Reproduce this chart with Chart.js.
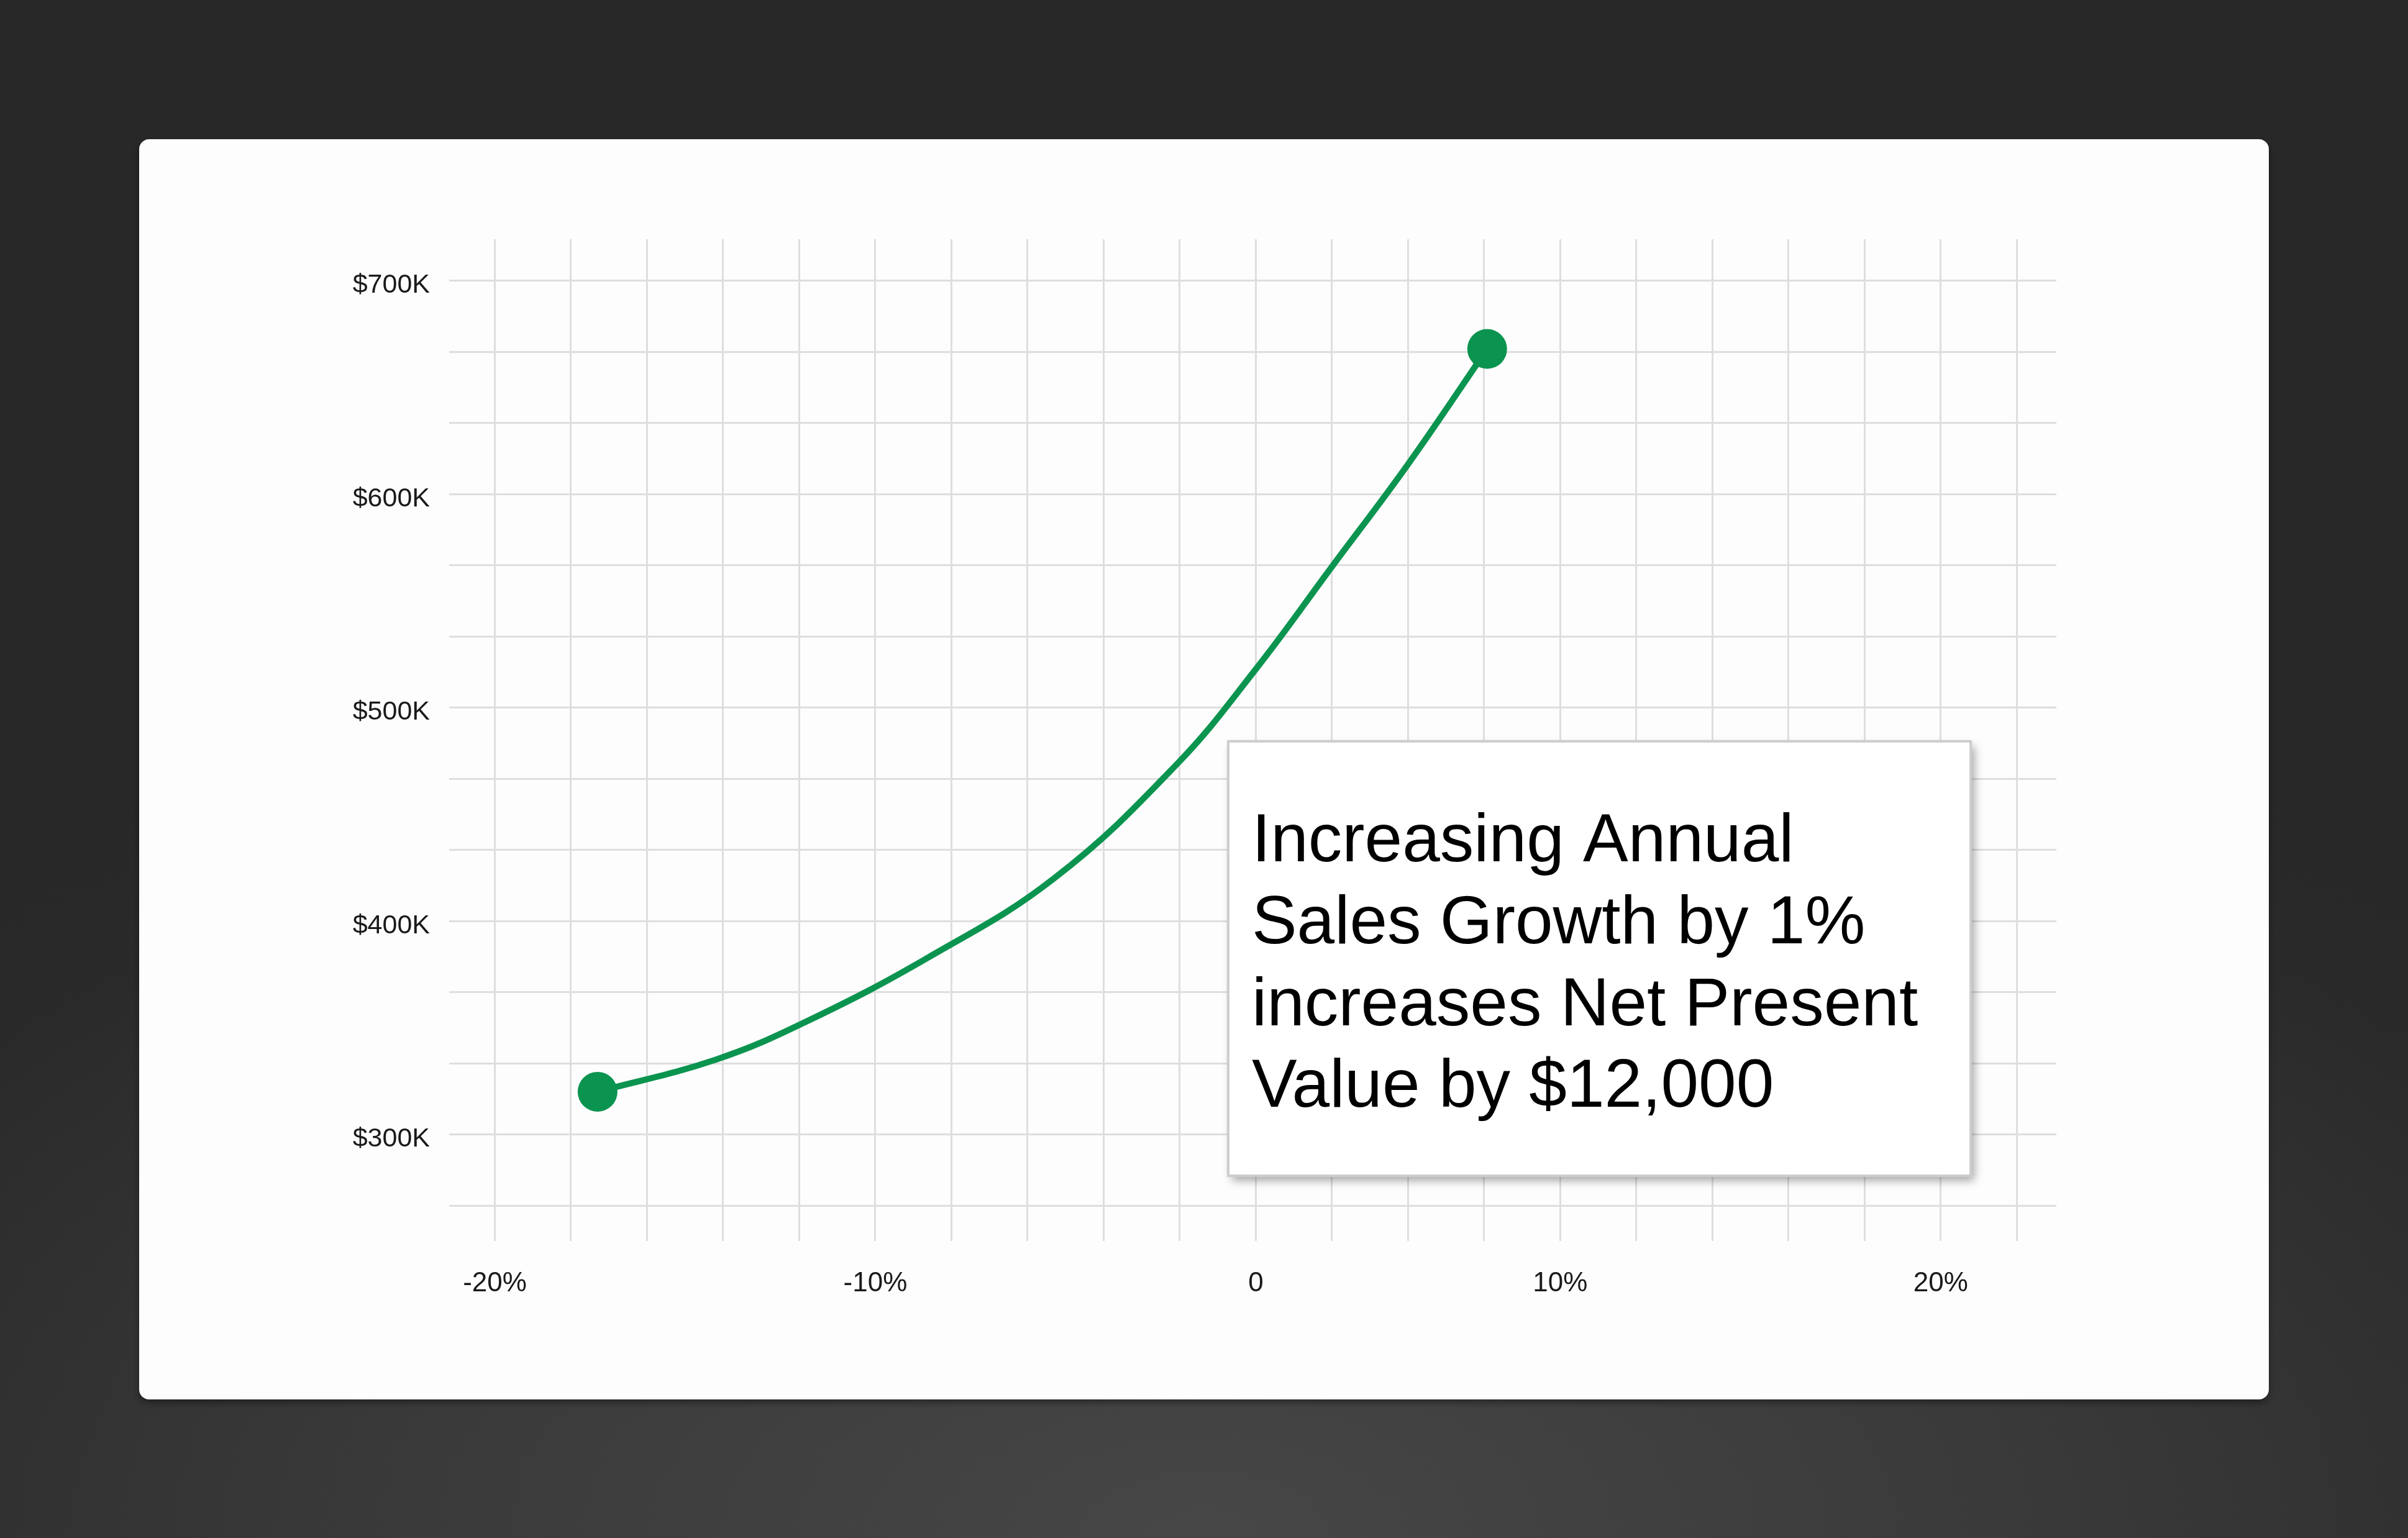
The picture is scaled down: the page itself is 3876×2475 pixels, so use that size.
<!DOCTYPE html>
<html>
<head>
<meta charset="utf-8">
<script src="https://cdn.jsdelivr.net/npm/chart.js@4.4.1/dist/chart.umd.min.js"></script>
<style>
  html, body { margin: 0; padding: 0; }
  body {
    width: 3876px; height: 2475px; overflow: hidden; position: relative;
    background: radial-gradient(ellipse 75% 60% at 50% 100%, #474747 0%, #3a3a3a 45%, #2a2a2a 85%, #282828 100%);
  }
  #card {
    position: absolute; left: 224px; top: 224px; width: 3428px; height: 2028px;
    background: #fdfdfd; border-radius: 16px;
    box-shadow: 0 6px 10px rgba(0,0,0,0.35);
  }
  #wrap { position: absolute; left: 0; top: 0; width: 3428px; height: 2028px; }
</style>
</head>
<body>
<div id="card"><div id="wrap"><canvas id="c"></canvas></div></div>
<script>
// ---- data ----
const growthPct = [-17.3, -14.2, -11.8, -8.6, -5.3, -2.1, 0.0, 2.5, 5.0, 7.6];      // annual sales growth (%)
const npvValues = [320000, 335000, 353000, 383000, 420000, 473000, 518000, 566000, 614000, 668000]; // net present value ($)
const xTickValues = [-20, -10, 0, 10, 20];
const xTickLabels = ['-20%', '-10%', '0', '10%', '20%'];
const yTickValues = [700000, 600000, 500000, 400000, 300000];
const yTickLabels = ['$700K', '$600K', '$500K', '$400K', '$300K'];
const noteLines = ['Increasing Annual', 'Sales Growth by 1%', 'increases Net Present', 'Value by $12,000'];

// ---- x axis as drawn in the picture: grid columns, labels sit on irregular columns ----
const xLabelColumns = [0, 5, 10, 14, 19];
const xColumnRange = [-0.6, 20.52];
const xColumnCount = 21;
function valueToCol(v) {
  const a = xTickValues, c = xLabelColumns;
  let i = 0;
  if (v >= a[a.length - 1]) i = a.length - 2;
  else while (i < a.length - 2 && v > a[i + 1]) i++;
  return c[i] + (v - a[i]) * (c[i + 1] - c[i]) / (a[i + 1] - a[i]);
}
function colToValue(col) {
  const a = xTickValues, c = xLabelColumns;
  let i = 0;
  if (col >= c[c.length - 1]) i = c.length - 2;
  else while (i < c.length - 2 && col > c[i + 1]) i++;
  return a[i] + (col - c[i]) * (a[i + 1] - a[i]) / (c[i + 1] - c[i]);
}
class ColumnScale extends Chart.LinearScale {
  getPixelForValue(value) {
    const col = valueToCol(value);
    return this.getPixelForDecimal((col - xColumnRange[0]) / (xColumnRange[1] - xColumnRange[0]));
  }
  getValueForPixel(pixel) {
    const col = xColumnRange[0] + this.getDecimalForPixel(pixel) * (xColumnRange[1] - xColumnRange[0]);
    return colToValue(col);
  }
}
ColumnScale.id = 'columns';
ColumnScale.defaults = {};
Chart.register(ColumnScale);

const xGridValues = [];
for (let k = 0; k < xColumnCount; k++) xGridValues.push(colToValue(k));
const yStep = 100000 / 3;
const yGridValues = [];
for (let k = 0; k < 14; k++) yGridValues.push(700000 - k * yStep);

const GREEN = '#0b944f';
const FONT = '"Liberation Sans", Arial, Helvetica, sans-serif';

const notePlugin = {
  id: 'note',
  afterDatasetsDraw(chart) {
    const ca = chart.chartArea, ctx = chart.ctx;
    const w = ca.right - ca.left, h = ca.bottom - ca.top;
    const bx = ca.left + 0.4847 * w, by = ca.top + 0.5012 * h;
    const bw = 0.462 * w, bh = 0.4337 * h;
    ctx.save();
    ctx.shadowColor = 'rgba(0,0,0,0.35)';
    ctx.shadowBlur = 14;
    ctx.shadowOffsetX = 6;
    ctx.shadowOffsetY = 8;
    ctx.fillStyle = '#ffffff';
    ctx.fillRect(bx, by, bw, bh);
    ctx.restore();
    ctx.save();
    ctx.strokeStyle = '#cdcdcd';
    ctx.lineWidth = 4;
    ctx.strokeRect(bx, by, bw, bh);
    ctx.fillStyle = '#000000';
    ctx.font = '109px ' + FONT;
    ctx.textAlign = 'left';
    ctx.textBaseline = 'alphabetic';
    noteLines.forEach((t, i) => ctx.fillText(t, bx + 38, by + 193 + i * 131.8));
    ctx.restore();
  }
};

new Chart(document.getElementById('c'), {
  type: 'line',
  data: {
    datasets: [{
      data: growthPct.map((x, i) => ({ x: x, y: npvValues[i] })),
      borderColor: GREEN,
      backgroundColor: GREEN,
      borderWidth: 10,
      tension: 0.4,
      pointRadius: growthPct.map((_, i) => (i === 0 || i === growthPct.length - 1) ? 32 : 0),
      pointBackgroundColor: GREEN,
      pointBorderWidth: 0,
      pointHoverRadius: 32,
      fill: false
    }]
  },
  options: {
    responsive: true,
    maintainAspectRatio: false,
    animation: false,
    events: [],
    layout: { padding: { left: 0, top: 161, right: 342, bottom: 105 } },
    plugins: { legend: { display: false }, tooltip: { enabled: false } },
    scales: {
      x: {
        type: 'columns',
        min: colToValue(xColumnRange[0]),
        max: colToValue(xColumnRange[1]),
        afterBuildTicks: (s) => { s.ticks = xGridValues.map(v => ({ value: v })); },
        afterFit: (s) => { s.height = 150; },
        border: { display: false },
        grid: { color: '#dedede', lineWidth: 3, drawTicks: false },
        ticks: {
          autoSkip: false, maxRotation: 0, padding: 42,
          color: '#1a1a1a', font: { family: FONT, size: 44 },
          callback: (v) => {
            const i = xTickValues.findIndex(t => Math.abs(t - v) < 1e-6);
            return i >= 0 ? xTickLabels[i] : '';
          }
        }
      },
      y: {
        type: 'linear',
        min: 250100,
        max: 719400,
        afterBuildTicks: (s) => { s.ticks = yGridValues.map(v => ({ value: v })); },
        afterFit: (s) => { s.width = 499; },
        border: { display: false },
        grid: { color: '#dedede', lineWidth: 3, drawTicks: false },
        ticks: {
          autoSkip: false, padding: 31, labelOffset: 8,
          color: '#1a1a1a', font: { family: FONT, size: 43 },
          callback: (v) => {
            const i = yTickValues.findIndex(t => Math.abs(t - v) < 1);
            return i >= 0 ? yTickLabels[i] : '';
          }
        }
      }
    }
  },
  plugins: [notePlugin]
});
</script>
</body>
</html>
